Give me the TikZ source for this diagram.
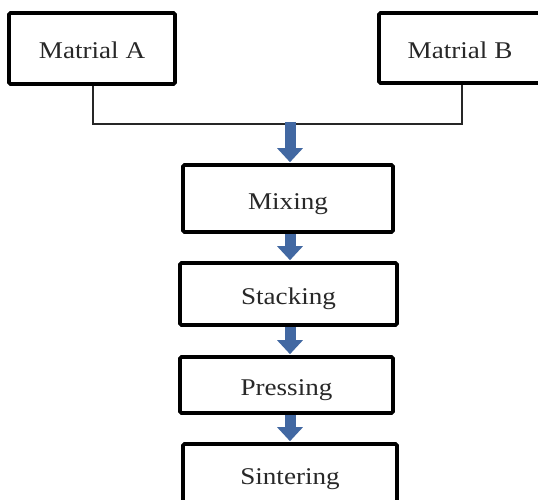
\documentclass[tikz,border=0pt]{standalone}
\usepackage{fontspec}
\setmainfont{Liberation Serif}[FakeStretch=1.13]
\usetikzlibrary{arrows.meta}
\definecolor{arrblue}{RGB}{66,104,162}
\definecolor{txt}{RGB}{40,40,40}
\tikzset{
  stepbox/.style={draw=black, line width=3.6pt, rounded corners=1.5pt, fill=white,
    inner sep=0pt, text height=21pt, text depth=0pt, text=txt,
    font=\fontsize{24}{26}\selectfont},
  joinline/.style={draw=black!85, line width=1.6pt},
  flowarr/.style={draw=arrblue, line width=11pt,
    -{Triangle[width=25pt,length=14pt]}, arrblue, shorten >=1pt}
}
\begin{document}
\begin{tikzpicture}[x=1pt,y=-1pt]
\useasboundingbox (0,0) rectangle (538,500);
\clip (0,0) rectangle (538,500);
\fill[white] (0,0) rectangle (538,500);
\node[stepbox, minimum width=166pt, minimum height=71pt] (ma) at (92,48.5) {Matrial A};
\node[stepbox, minimum width=170pt, minimum height=70pt] (mb) at (464,48) {\hspace*{-8pt}Matrial B};
\node[stepbox, minimum width=210pt, minimum height=67pt] (mix) at (288,198.5) {Mixing};
\node[stepbox, minimum width=217pt, minimum height=62pt] (stack) at (288.5,294) {Stacking};
\node[stepbox, minimum width=213pt, minimum height=56pt] (press) at (286.5,385) {Pressing};
\node[stepbox, minimum width=214pt, minimum height=60pt] (sinter) at (290,474) {Sintering};
\coordinate (ja) at (93,124);
\coordinate (jb) at (462,124);
\coordinate (j) at (290,122);
\draw[joinline] (ma.south -| ja) -- (ja) -- (jb) -- (mb.south -| jb);
\draw[flowarr] (j) -- (j |- mix.north);
\draw[flowarr] (j |- mix.south) -- (j |- stack.north);
\draw[flowarr] (j |- stack.south) -- (j |- press.north);
\draw[flowarr] (j |- press.south) -- (j |- sinter.north);
\end{tikzpicture}
\end{document}
